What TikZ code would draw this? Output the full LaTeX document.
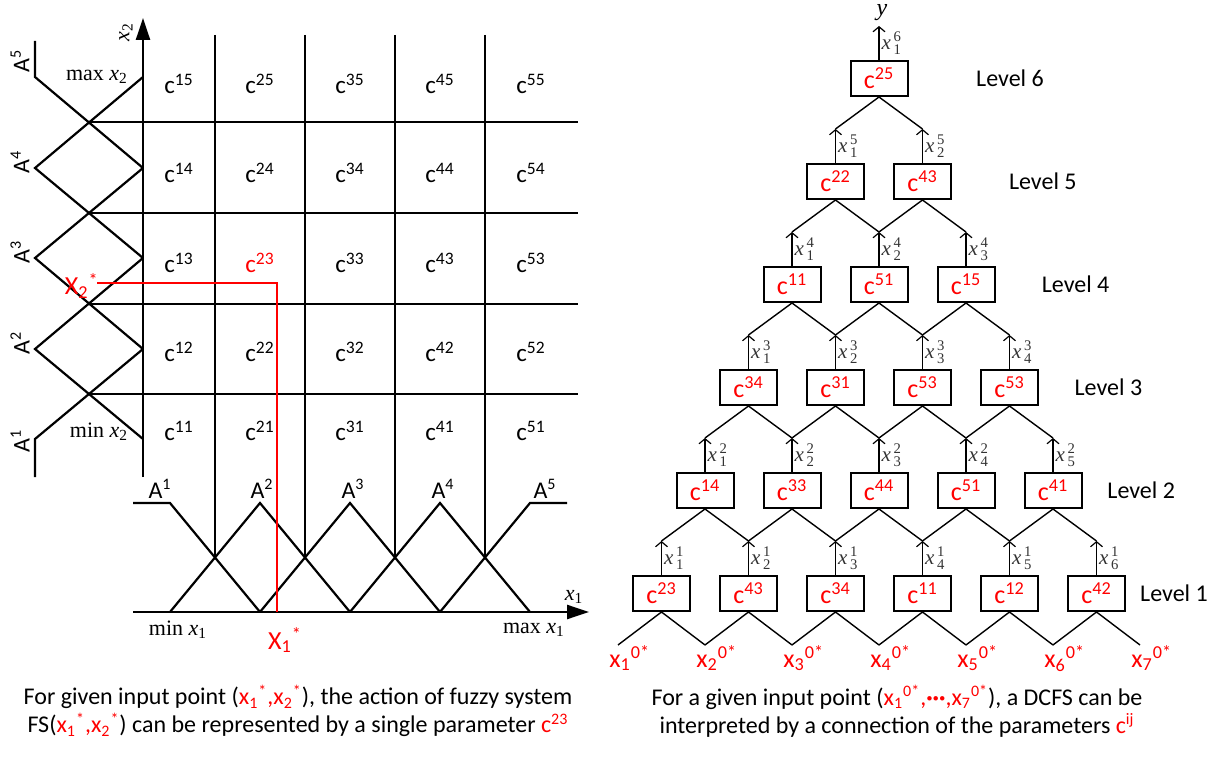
\documentclass[tikz,border=0pt]{standalone}
\usepackage{fontspec}
\usepackage{amsmath}
\setmainfont{Carlito}
\newfontfamily\tnr{Liberation Serif}
\usetikzlibrary{arrows.meta}
\newcommand{\fsz}[1]{\fontsize{#1}{#1}\selectfont}
\newcommand{\cc}[1]{c\textsuperscript{#1}}
\newcommand{\xv}[1]{$\text{\tnr\itshape x}_{\text{\tnr #1}}$}
\newcommand{\xt}[2]{$\text{\tnr\itshape x}^{\,\text{\tnr #2}}_{\,\text{\tnr #1}}$}

\begin{document}
\begin{tikzpicture}[x=0.5pt,y=-0.5pt,
  mf/.style={line width=1.1pt,line join=miter},
  gridl/.style={line width=0.6pt},
  axis/.style={line width=1.2pt,-{Triangle[length=11pt,width=7pt]}},
  rline/.style={red,line width=1.1pt},
  cell/.style={font=\fsz{12.5}},
  alab/.style={font=\fsz{12}},
  tlab/.style={font=\fsz{11}},
  cbox/.style={draw,line width=1pt,minimum width=28.5pt,minimum height=17.5pt,inner sep=0pt,text=red,font=\fsz{13}},
  link/.style={line width=0.7pt},
  up/.style={line width=0.6pt,-{Straight Barb[length=2.5pt,width=6pt]}},
  xlab/.style={right,inner sep=1pt,text=black!80,font=\fsz{10.5}},
  lvl/.style={font=\fsz{12}},
  capt/.style={align=center,font=\fontsize{12}{14}\selectfont}]
\useasboundingbox(0,0)rectangle(1223,765);
% grid of rules c^{ij}
\foreach \x in {215,305,395,485} \draw[gridl](\x,35)--(\x,557.5);
\foreach \y in {122,213,304,394} \draw[gridl](89,\y)--(578,\y);
\foreach \i/\x in {1/179,2/260,3/350,4/440,5/531}
  \foreach \j/\y in {1/431,2/352,3/263,4/173,5/84}{
    \def\col{black}\ifnum\i\j=23 \def\col{red}\fi
    \node[cell,text=\col] (c\i\j) at (\x,\y) {\cc{\i\j}};}
% membership functions of x2
\draw[mf](35,41)--(35,77)--(143,168);
\draw[mf](143,77)--(35,168)--(143,258);
\draw[mf](143,168)--(35,258)--(143,349);
\draw[mf](143,258)--(35,349)--(143,439);
\draw[mf](143,349)--(35,439)--(35,477);
% membership functions of x1
\draw[mf](133,503)--(170,503)--(260,612);
\draw[mf](170,612)--(260,503)--(350,612);
\draw[mf](260,612)--(350,503)--(440,612);
\draw[mf](350,612)--(440,503)--(530,612);
\draw[mf](440,612)--(530,503)--(567,503);
\draw[axis](143,477)--(143,18);
\draw[axis](133,612)--(589,612);
\node[tlab,rotate=90] (x2) at (126,32) {\xv{2}};
\node[tlab] (x1) at (574,597) {\xv{1}};
\node[tlab] (mx2) at (97,77) {{\tnr max }\xv{2}};
\node[tlab] (mn2) at (99,432) {{\tnr min }\xv{2}};
\node[tlab] (mn1) at (178,630) {{\tnr min }\xv{1}};
\node[tlab] (mx1) at (534,630) {{\tnr max }\xv{1}};
\foreach \k/\y in {5/61,4/162,3/252,2/343,1/441}
  \node[alab,rotate=90] (la\k) at (20,\y) {A\textsuperscript{\k}};
\foreach \k/\x in {1/160,2/262,3/353,4/443,5/545}
  \node[alab,anchor=base] (ba\k) at (\x,498) {A\textsuperscript{\k}};
% input point
\draw[rline](277,612)--(277,283)--(97,283);
\node[red,font=\fsz{13},anchor=base east,inner sep=0pt] (xs2) at (99,295) {X\textsubscript{2}\textsuperscript{*}};
\node[red,font=\fsz{13},anchor=base,inner sep=0pt] (xs1) at (285,649) {X\textsubscript{1}\textsuperscript{*}};
% DCFS tree
\foreach \k in {1,...,7}{
  \coordinate (in\k) at ({618+87*(\k-1)},645);
  \node[red,font=\fsz{13},anchor=north west,inner sep=0pt] (xi\k) at ([xshift=-4.5pt]in\k) {x\textsubscript{\k}\textsuperscript{0*}};}
\foreach \L/\vals in {1/{23,43,34,11,12,42},2/{14,33,44,51,41},3/{34,31,53,53},4/{11,51,15},5/{22,43},6/{25}}{
  \foreach \v [count=\i] in \vals{
    \node[cbox] (b\L-\i) at ({661.5+87*(\i-1)+43.5*(\L-1)},{593.5-103*(\L-1)}) {\cc{\v}};
    \draw[up](b\L-\i.north)-- node[xlab]{\xt{\i}{\L}} ++(0,-34) coordinate (t\L-\i);}
  \node[lvl] (lv\L) at ({1174-32.8*(\L-1)},{593.5-103*(\L-1)}) {Level \L};}
\foreach \i in {1,...,6}{
  \pgfmathtruncatemacro\j{\i+1}
  \draw[link](in\i)--(b1-\i.south)--(in\j);}
\foreach \L in {2,...,6}{
  \pgfmathtruncatemacro\n{7-\L}\pgfmathtruncatemacro\k{\L-1}
  \foreach \i in {1,...,\n}{
    \pgfmathtruncatemacro\j{\i+1}
    \draw[link](t\k-\i)--(b\L-\i.south)--(t\k-\j);}}
\node[font=\fsz{12},anchor=base] (y) at (882,16) {\tnr\itshape y};
% captions
\node[capt] (capl) at (298,711) {For given input point (\textcolor{red}{x\textsubscript{1}\textsuperscript{*},x\textsubscript{2}\textsuperscript{*}}), the action of fuzzy system\\FS(\textcolor{red}{x\textsubscript{1}\textsuperscript{*},x\textsubscript{2}\textsuperscript{*}}) can be represented by a single parameter \textcolor{red}{c\textsuperscript{23}}};
\node[capt] (capr) at (897,711) {For a given input point (\textcolor{red}{x\textsubscript{1}\textsuperscript{0*},\textbf{···},x\textsubscript{7}\textsuperscript{0*}}), a DCFS can be\\interpreted by a connection of the parameters \textcolor{red}{c\textsuperscript{ij}}};
\end{tikzpicture}
\end{document}
